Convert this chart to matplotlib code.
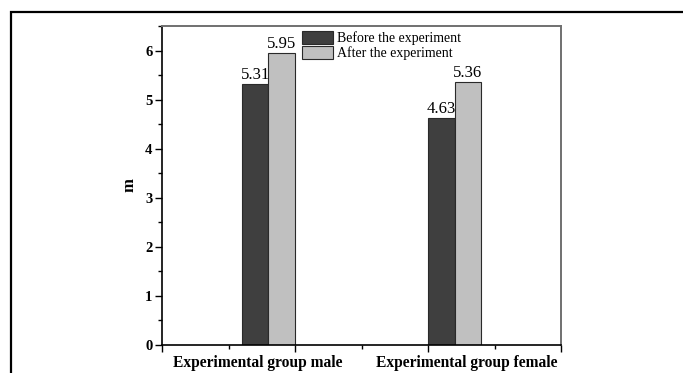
import numpy as np
import matplotlib.pyplot as plt
from matplotlib.patches import Rectangle
from matplotlib.ticker import MultipleLocator

# data
categories = ['Experimental group male', 'Experimental group female']
series = ['Before the experiment', 'After the experiment']
before = [5.31, 4.63]
after = [5.95, 5.36]

plt.rcParams['font.family'] = ['Liberation Serif', 'DejaVu Serif']

fig = plt.figure(figsize=(6.83, 3.73), dpi=100)
ax = fig.add_axes([162 / 683, 28 / 373, 399 / 683, 319 / 373])

# outer frame (cropped at right and bottom)
fig.patches.append(Rectangle((11 / 683, -0.2), 1.5, (361 / 373) + 0.2,
                             transform=fig.transFigure, fill=False,
                             edgecolor='black', linewidth=1.6))

centers = np.array([0.8, 2.2])
width = 0.2
colors = ['#3f3f3f', '#c0c0c0']

b1 = ax.bar(centers - width / 2, before, width, color=colors[0],
            edgecolor='#2a2a2a', linewidth=0.8, label=series[0])
b2 = ax.bar(centers + width / 2, after, width, color=colors[1],
            edgecolor='#2a2a2a', linewidth=0.8, label=series[1])

for bars, vals in [(b1, before), (b2, after)]:
    for rect, v in zip(bars, vals):
        ax.text(rect.get_x() + rect.get_width() / 2, v + 0.02, f'{v:.2f}',
                ha='center', va='bottom', fontsize=12)

ax.set_xlim(0, 3)
ax.set_ylim(0, 6.5)
ax.xaxis.set_major_locator(MultipleLocator(1))
ax.xaxis.set_minor_locator(MultipleLocator(0.5))
ax.yaxis.set_major_locator(MultipleLocator(1))
ax.yaxis.set_minor_locator(MultipleLocator(0.5))
ax.set_xticklabels([])
ax.tick_params(axis='x', which='major', length=5, width=1, direction='out')
ax.tick_params(axis='x', which='minor', length=3, width=1, direction='out')
ax.tick_params(axis='y', which='major', length=5, width=1, direction='out',
               labelsize=10.5, pad=2)
ax.tick_params(axis='y', which='minor', length=3, width=1, direction='out')
for lab in ax.get_yticklabels():
    lab.set_fontweight('bold')

# category labels
for x, c in zip([0.72, 2.29], categories):
    ax.text(x, -0.032, c, transform=ax.get_xaxis_transform(), ha='center',
            va='top', fontsize=11.2, fontweight='bold')

ax.set_ylabel('m', fontsize=12, fontweight='bold', labelpad=5)

for s in ['left', 'bottom']:
    ax.spines[s].set_color('black')
    ax.spines[s].set_linewidth(1.2)
for s in ['top', 'right']:
    ax.spines[s].set_color('#707070')
    ax.spines[s].set_linewidth(1.4)

ax.legend(loc='upper left', bbox_to_anchor=(0.351, 0.984), frameon=False,
          fontsize=10, borderpad=0, borderaxespad=0, handlelength=2.25,
          handleheight=1.0, handletextpad=0.3, labelspacing=0.08)

fig.savefig('out.png', dpi=100)
